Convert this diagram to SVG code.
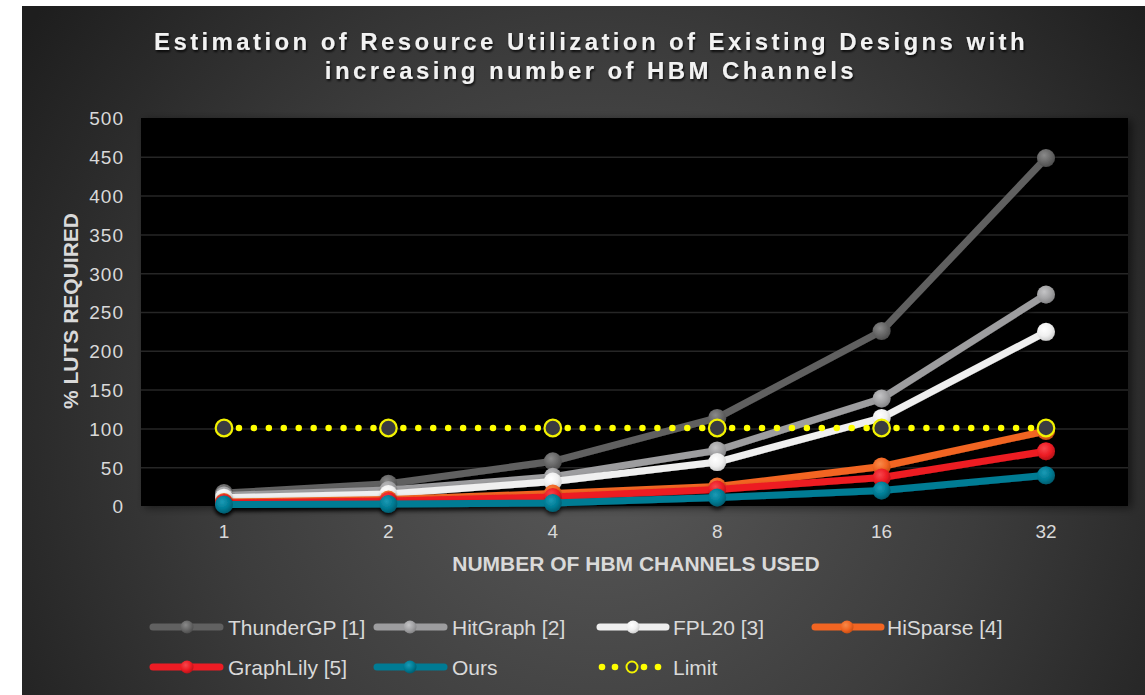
<svg xmlns="http://www.w3.org/2000/svg" xmlns:xlink="http://www.w3.org/1999/xlink" width="1145" height="695" viewBox="0 0 1145 695">
  <defs>
    <radialGradient id="bg" cx="600" cy="430" r="700" gradientUnits="userSpaceOnUse">
      <stop offset="0" stop-color="#5a5a5a"/>
      <stop offset="0.55" stop-color="#3c3c3c"/>
      <stop offset="1" stop-color="#1e1e1e"/>
    </radialGradient>
    <radialGradient id="gThunder" cx="0.4" cy="0.35" r="0.65">
      <stop offset="0" stop-color="#8a8a8a"/>
      <stop offset="0.6" stop-color="#676767"/>
      <stop offset="1" stop-color="#4e4e4e"/>
    </radialGradient>
    <radialGradient id="gHit" cx="0.4" cy="0.35" r="0.65">
      <stop offset="0" stop-color="#c4c4c6"/>
      <stop offset="0.6" stop-color="#a2a2a4"/>
      <stop offset="1" stop-color="#858587"/>
    </radialGradient>
    <radialGradient id="gFpl" cx="0.4" cy="0.35" r="0.65">
      <stop offset="0" stop-color="#ffffff"/>
      <stop offset="0.6" stop-color="#f0f0f0"/>
      <stop offset="1" stop-color="#cfcfcf"/>
    </radialGradient>
    <radialGradient id="gHiSparse" cx="0.4" cy="0.35" r="0.65">
      <stop offset="0" stop-color="#f78a4a"/>
      <stop offset="0.6" stop-color="#f26522"/>
      <stop offset="1" stop-color="#c84f14"/>
    </radialGradient>
    <radialGradient id="gLily" cx="0.4" cy="0.35" r="0.65">
      <stop offset="0" stop-color="#f6474d"/>
      <stop offset="0.6" stop-color="#ed1c24"/>
      <stop offset="1" stop-color="#b8141a"/>
    </radialGradient>
    <radialGradient id="gOurs" cx="0.4" cy="0.35" r="0.65">
      <stop offset="0" stop-color="#1b9ab5"/>
      <stop offset="0.6" stop-color="#007c95"/>
      <stop offset="1" stop-color="#005d70"/>
    </radialGradient>
    <filter id="shadow" x="-10%" y="-10%" width="120%" height="130%">
      <feDropShadow dx="0" dy="3" stdDeviation="2" flood-color="#000" flood-opacity="0.75"/>
    </filter>
    <filter id="textShadow" x="-5%" y="-30%" width="110%" height="160%">
      <feDropShadow dx="1" dy="2" stdDeviation="1.2" flood-color="#000" flood-opacity="0.8"/>
    </filter>
    <filter id="plotShadow" x="-5%" y="-5%" width="110%" height="110%">
      <feDropShadow dx="4" dy="2" stdDeviation="4" flood-color="#000" flood-opacity="0.5"/>
    </filter>
    <style>
      .title { font-family: "Liberation Sans", Arial, sans-serif; font-weight: bold; font-size: 24px; letter-spacing: 3.4px; fill: #f2f2f2; }
      .tick { font-family: "Liberation Sans", Arial, sans-serif; font-size: 19px; fill: #d9d9d9; }
      .ytick { letter-spacing: 1px; text-anchor: end; }
      .xtick { text-anchor: middle; }
      .axis-title { font-family: "Liberation Sans", Arial, sans-serif; font-weight: bold; font-size: 21px; fill: #d9d9d9; text-anchor: middle; }
      .legend-text { font-family: "Liberation Sans", Arial, sans-serif; font-size: 21px; fill: #d9d9d9; }
      .grid line { stroke: #262626; stroke-width: 1.5; }
      .series { fill: none; stroke-width: 7; stroke-linejoin: round; stroke-linecap: round; }
      .legend-line { stroke-width: 7; stroke-linecap: round; }
      .limit-dots { fill: none; stroke: #ffff00; stroke-width: 6.5; stroke-linecap: round; stroke-dasharray: 0 14.945; }
      .limit-marker { fill: #3a3b40; stroke: #f2f200; stroke-width: 2.2; }
    </style>
  </defs>

  <!-- chart background -->
  <rect x="0" y="0" width="1145" height="695" fill="#ffffff"/>
  <rect x="22" y="6" width="1123" height="689" fill="url(#bg)"/>

  <!-- title -->
  <g id="title" filter="url(#textShadow)">
    <text class="title" x="591" y="50" text-anchor="middle">Estimation of Resource Utilization of Existing Designs with</text>
    <text class="title" x="591" y="79" text-anchor="middle">increasing number of HBM Channels</text>
  </g>

  <!-- plot area -->
  <rect id="plot-area" x="141" y="118" width="987" height="388" fill="#000000" filter="url(#plotShadow)"/>
  <g class="grid">
    <line x1="141" y1="157.3" x2="1128" y2="157.3"/>
    <line x1="141" y1="196.1" x2="1128" y2="196.1"/>
    <line x1="141" y1="234.9" x2="1128" y2="234.9"/>
    <line x1="141" y1="273.7" x2="1128" y2="273.7"/>
    <line x1="141" y1="312.5" x2="1128" y2="312.5"/>
    <line x1="141" y1="351.3" x2="1128" y2="351.3"/>
    <line x1="141" y1="390.1" x2="1128" y2="390.1"/>
    <line x1="141" y1="428.9" x2="1128" y2="428.9"/>
    <line x1="141" y1="467.7" x2="1128" y2="467.7"/>
  </g>

  <!-- y axis ticks -->
  <g id="y-axis">
    <text class="tick ytick" x="124" y="125">500</text>
    <text class="tick ytick" x="124" y="164">450</text>
    <text class="tick ytick" x="124" y="203">400</text>
    <text class="tick ytick" x="124" y="241.5">350</text>
    <text class="tick ytick" x="124" y="280.5">300</text>
    <text class="tick ytick" x="124" y="319">250</text>
    <text class="tick ytick" x="124" y="358">200</text>
    <text class="tick ytick" x="124" y="397">150</text>
    <text class="tick ytick" x="124" y="435.5">100</text>
    <text class="tick ytick" x="124" y="474.5">50</text>
    <text class="tick ytick" x="124" y="513">0</text>
    <text class="axis-title" transform="translate(78 311) rotate(-90)">% LUTS REQUIRED</text>
  </g>

  <!-- x axis ticks -->
  <g id="x-axis">
    <text class="tick xtick" x="224" y="538">1</text>
    <text class="tick xtick" x="388.4" y="538">2</text>
    <text class="tick xtick" x="552.8" y="538">4</text>
    <text class="tick xtick" x="717.2" y="538">8</text>
    <text class="tick xtick" x="881.6" y="538">16</text>
    <text class="tick xtick" x="1046" y="538">32</text>
    <text class="axis-title" x="636" y="571">NUMBER OF HBM CHANNELS USED</text>
  </g>

  <!-- data series (connectors between category points) -->
  <g id="connectors">
    <g id="series-thundergp" filter="url(#shadow)">
      <polyline class="series" stroke="#616161" points="224,493.1 388.4,483.8 552.8,461.3 717.2,417.9 881.6,331 1046,158"/>
      <g fill="url(#gThunder)">
        <circle cx="224" cy="493.1" r="9"/>
        <circle cx="388.4" cy="483.8" r="9"/>
        <circle cx="552.8" cy="461.3" r="9"/>
        <circle cx="717.2" cy="417.9" r="9"/>
        <circle cx="881.6" cy="331" r="9"/>
        <circle cx="1046" cy="158" r="9"/>
      </g>
    </g>
    <g id="series-hitgraph" filter="url(#shadow)">
      <polyline class="series" stroke="#9d9d9f" points="224,495.4 388.4,490 552.8,476.8 717.2,450.4 881.6,398.5 1046,294.5"/>
      <g fill="url(#gHit)">
        <circle cx="224" cy="495.4" r="9"/>
        <circle cx="388.4" cy="490" r="9"/>
        <circle cx="552.8" cy="476.8" r="9"/>
        <circle cx="717.2" cy="450.4" r="9"/>
        <circle cx="881.6" cy="398.5" r="9"/>
        <circle cx="1046" cy="294.5" r="9"/>
      </g>
    </g>
    <g id="series-fpl20" filter="url(#shadow)">
      <polyline class="series" stroke="#efefef" points="224,497.7 388.4,493.9 552.8,481.5 717.2,462.1 881.6,417.9 1046,331.8"/>
      <g fill="url(#gFpl)">
        <circle cx="224" cy="497.7" r="9"/>
        <circle cx="388.4" cy="493.9" r="9"/>
        <circle cx="552.8" cy="481.5" r="9"/>
        <circle cx="717.2" cy="462.1" r="9"/>
        <circle cx="881.6" cy="417.9" r="9"/>
        <circle cx="1046" cy="331.8" r="9"/>
      </g>
    </g>
    <g id="series-hisparse" filter="url(#shadow)">
      <polyline class="series" stroke="#f26522" points="224,502 388.4,499.5 552.8,493.5 717.2,486.5 881.6,466.5 1046,431"/>
      <g fill="url(#gHiSparse)">
        <circle cx="224" cy="502" r="9"/>
        <circle cx="388.4" cy="499.5" r="9"/>
        <circle cx="552.8" cy="493.5" r="9"/>
        <circle cx="717.2" cy="486.5" r="9"/>
        <circle cx="881.6" cy="466.5" r="9"/>
        <circle cx="1046" cy="431" r="9"/>
      </g>
    </g>
    <g id="series-graphlily" filter="url(#shadow)">
      <polyline class="series" stroke="#ed1c24" points="224,503 388.4,501 552.8,497 717.2,489.5 881.6,477.5 1046,451.2"/>
      <g fill="url(#gLily)">
        <circle cx="224" cy="503" r="9"/>
        <circle cx="388.4" cy="501" r="9"/>
        <circle cx="552.8" cy="497" r="9"/>
        <circle cx="717.2" cy="489.5" r="9"/>
        <circle cx="881.6" cy="477.5" r="9"/>
        <circle cx="1046" cy="451.2" r="9"/>
      </g>
    </g>
    <g id="series-ours" filter="url(#shadow)">
      <polyline class="series" stroke="#007b94" points="224,504.5 388.4,504 552.8,503 717.2,497.5 881.6,490.5 1046,475.3"/>
      <g fill="url(#gOurs)">
        <circle cx="224" cy="504.5" r="9"/>
        <circle cx="388.4" cy="504" r="9"/>
        <circle cx="552.8" cy="503" r="9"/>
        <circle cx="717.2" cy="497.5" r="9"/>
        <circle cx="881.6" cy="490.5" r="9"/>
        <circle cx="1046" cy="475.3" r="9"/>
      </g>
    </g>
    <g id="series-limit">
      <line class="limit-dots" x1="224" y1="428" x2="1046" y2="428"/>
      <circle class="limit-marker" cx="224" cy="428" r="8.3"/>
      <circle class="limit-marker" cx="388.4" cy="428" r="8.3"/>
      <circle class="limit-marker" cx="552.8" cy="428" r="8.3"/>
      <circle class="limit-marker" cx="717.2" cy="428" r="8.3"/>
      <circle class="limit-marker" cx="881.6" cy="428" r="8.3"/>
      <circle class="limit-marker" cx="1046" cy="428" r="8.3"/>
    </g>
  </g>

  <!-- legend -->
  <g id="legend">
    <g id="legend-thundergp">
      <line class="legend-line" stroke="#616161" x1="153" y1="627" x2="220" y2="627"/>
      <circle cx="187" cy="627" r="6.5" fill="url(#gThunder)"/>
      <text class="legend-text" x="228" y="634.5">ThunderGP [1]</text>
    </g>
    <g id="legend-hitgraph">
      <line class="legend-line" stroke="#9d9d9f" x1="377" y1="627" x2="444" y2="627"/>
      <circle cx="410" cy="627" r="6.5" fill="url(#gHit)"/>
      <text class="legend-text" x="452" y="634.5">HitGraph [2]</text>
    </g>
    <g id="legend-fpl20">
      <line class="legend-line" stroke="#efefef" x1="600" y1="627" x2="666" y2="627"/>
      <circle cx="633" cy="627" r="6.5" fill="url(#gFpl)"/>
      <text class="legend-text" x="673" y="634.5">FPL20 [3]</text>
    </g>
    <g id="legend-hisparse">
      <line class="legend-line" stroke="#f26522" x1="815" y1="627" x2="881" y2="627"/>
      <circle cx="847" cy="627" r="6.5" fill="url(#gHiSparse)"/>
      <text class="legend-text" x="887" y="634.5">HiSparse [4]</text>
    </g>
    <g id="legend-graphlily">
      <line class="legend-line" stroke="#ed1c24" x1="153" y1="667" x2="220" y2="667"/>
      <circle cx="187" cy="667" r="6.5" fill="url(#gLily)"/>
      <text class="legend-text" x="228" y="674.5">GraphLily [5]</text>
    </g>
    <g id="legend-ours">
      <line class="legend-line" stroke="#007b94" x1="377" y1="667" x2="444" y2="667"/>
      <circle cx="410" cy="667" r="6.5" fill="url(#gOurs)"/>
      <text class="legend-text" x="452" y="674.5">Ours</text>
    </g>
    <g id="legend-limit">
      <g fill="#ffff00">
        <circle cx="602" cy="667" r="3.3"/>
        <circle cx="615" cy="667" r="3.3"/>
        <circle cx="644" cy="667" r="3.3"/>
        <circle cx="658" cy="667" r="3.3"/>
      </g>
      <circle cx="632" cy="667" r="5.5" fill="#3a3b40" stroke="#f2f200" stroke-width="2"/>
      <text class="legend-text" x="673" y="674.5">Limit</text>
    </g>
  </g>
</svg>
